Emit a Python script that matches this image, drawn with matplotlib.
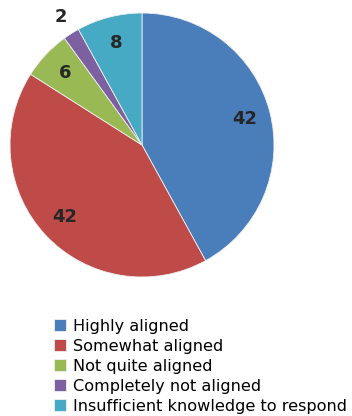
import numpy as np
import matplotlib.pyplot as plt

plt.rcParams["font.family"] = ["DejaVu Sans"]

categories = ["Highly aligned", "Somewhat aligned", "Not quite aligned",
              "Completely not aligned", "Insufficient knowledge to respond"]
values = [42, 42, 6, 2, 8]
colors = ["#4A7EBB", "#BE4B48", "#98B954", "#7D60A0", "#46AAC5"]

W, H = 352, 416
fig = plt.figure(figsize=(W / 100, H / 100), dpi=100)

# pie: centre (142, 145) px from top-left, radius 132 px
cx, cy, r = 142, 145, 132
ax = fig.add_axes([(cx - r) / W, (H - cy - r) / H, 2 * r / W, 2 * r / H])
wedges, _ = ax.pie(values, colors=colors, startangle=90, counterclock=False,
                   radius=1, wedgeprops=dict(edgecolor="#f0f0f0", linewidth=0.6))
ax.set_xlim(-1, 1)
ax.set_ylim(-1, 1)
ax.set_aspect("equal")
ax.axis("off")

# value labels, small slices pushed outside
for w, v in zip(wedges, values):
    mid = np.deg2rad((w.theta1 + w.theta2) / 2)
    dist = 1.15 if v < 5 else 0.8
    ax.text(dist * np.cos(mid), dist * np.sin(mid), str(v), ha="center", va="center",
            fontsize=13, fontweight="bold", color="#262626")

fig.legend(wedges, categories, loc="upper left", bbox_to_anchor=(54 / W, 1 - 319 / H),
           frameon=False, fontsize=11.6, handlelength=0.75, handleheight=0.75,
           handletextpad=0.45, labelspacing=0.31, borderpad=0, borderaxespad=0)

fig.savefig("out.png", dpi=100)
